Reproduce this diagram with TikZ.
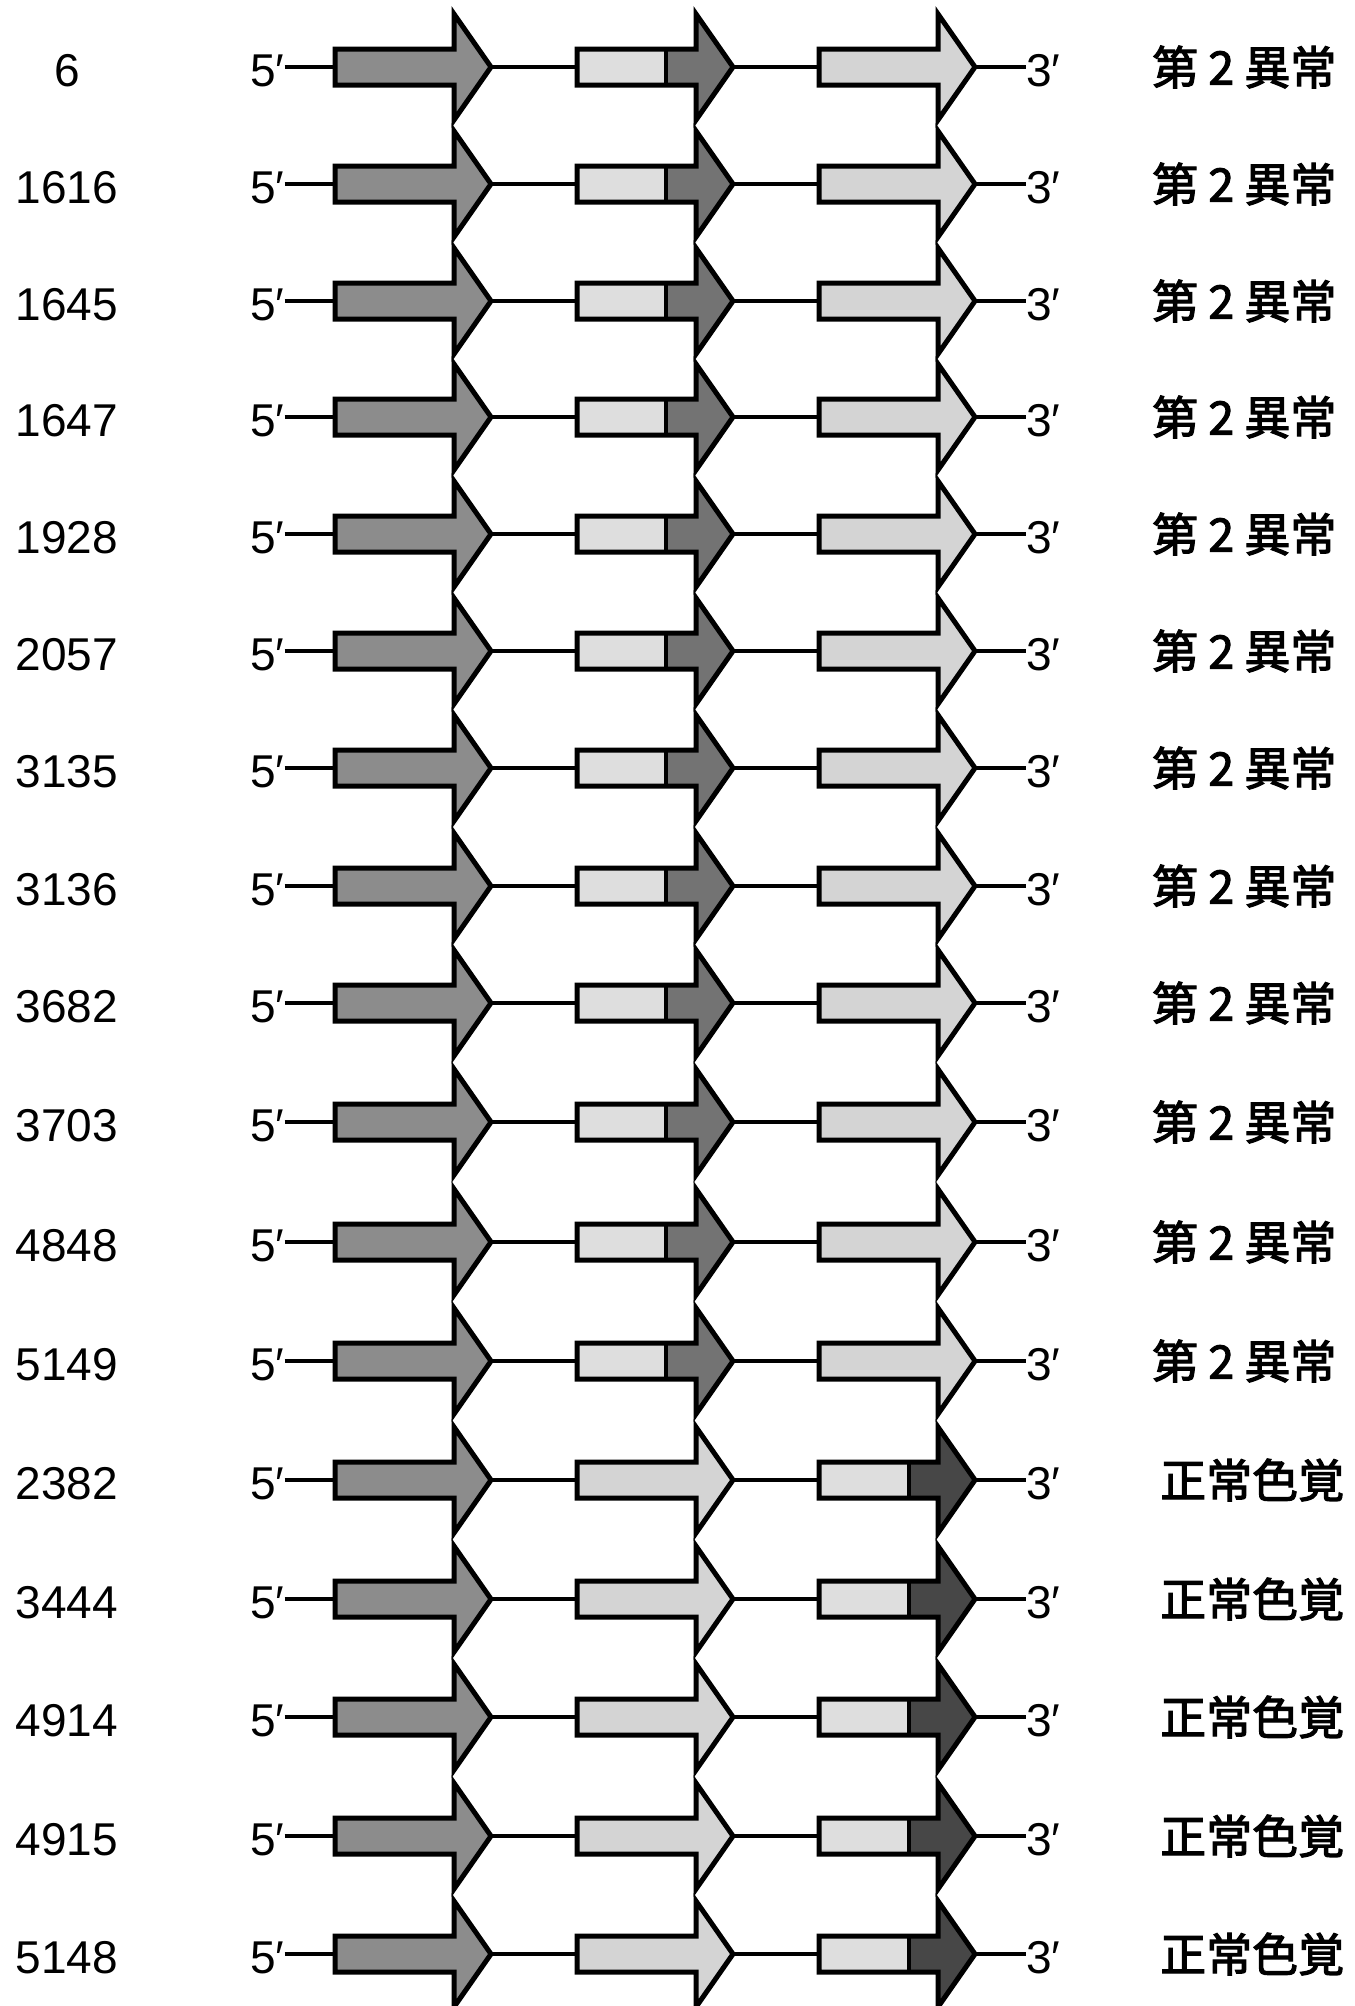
\documentclass[tikz,border=0pt]{standalone}
\usepackage{fontspec}
\setmainfont{Liberation Sans}
\newfontfamily\cjk[FakeBold=2.5]{Noto Sans CJK JP}
\definecolor{gOne}{gray}{0.55}
\definecolor{gLight}{gray}{0.87}
\definecolor{gPale}{gray}{0.83}
\definecolor{gMid}{gray}{0.45}
\definecolor{gDark}{gray}{0.28}
\tikzset{
  geneline/.style={draw=black, line width=5pt, line join=miter, miter limit=10},
  splitline/.style={draw=black, line width=3.5pt},
  link/.style={draw=black, line width=3.5pt},
  numlabel/.style={inner sep=0pt, anchor=base, font=\fontsize{46}{50}\selectfont},
  fivelabel/.style={inner sep=0pt, anchor=base west, font=\fontsize{46}{50}\selectfont},
  threelabel/.style={inner sep=0pt, anchor=base west, font=\fontsize{46}{50}\selectfont},
  typelabel/.style={inner sep=0pt, anchor=west, font=\cjk\fontsize{46}{50}\selectfont},
}
% #1 name, #2 x start, #3 y centre, #4 split (relative, 0 = none), #5 left fill, #6 right fill
\newcommand\drawgene[6]{%
  \coordinate (#1-s) at (#2,#3);
  \coordinate (#1-t) at (#2+156,#3);
  \fill[#5] (#2,#3-18) -- (#2+119,#3-18) -- (#2+119,#3-53) -- (#2+156,#3)
     -- (#2+119,#3+53) -- (#2+119,#3+18) -- (#2,#3+18) -- cycle;
  \ifnum#4>0
    \fill[#6] (#2+#4,#3-18) -- (#2+119,#3-18) -- (#2+119,#3-53) -- (#2+156,#3)
       -- (#2+119,#3+53) -- (#2+119,#3+18) -- (#2+#4,#3+18) -- cycle;
    \draw[splitline] (#2+#4,#3-18) -- (#2+#4,#3+18);
  \fi
  \draw[geneline] (#2,#3-18) -- (#2+119,#3-18) -- (#2+119,#3-53) -- (#2+156,#3)
     -- (#2+119,#3+53) -- (#2+119,#3+18) -- (#2,#3+18) -- cycle;
}
% #1 row id, #2 number, #3 y, #4 type text, #5 label x
\newcommand\rowparts[5]{%
  \node[numlabel] (r#1-num) at (67,#3+19) {#2};
  \node[fivelabel] (r#1-five) at (250,#3+19) {5′};
  \node[threelabel] (r#1-three) at (1026,#3+19) {3′};
  \node[typelabel] (r#1-lab) at (#5,#3) {#4};
}
\begin{document}
\begin{tikzpicture}[x=1pt,y=-1pt]
\fill[white] (0,0) rectangle (1355,2006);
\useasboundingbox (0,0) rectangle (1355,2006);
% second-type anomaly rows
\foreach \i/\n/\y in {0/6/67, 1/1616/184, 2/1645/301, 3/1647/417, 4/1928/534,
    5/2057/651, 6/3135/768, 7/3136/886, 8/3682/1003, 9/3703/1122,
    10/4848/1242, 11/5149/1361}{
  \rowparts{\i}{\n}{\y}{第 2 異常}{1152}
  \coordinate (r\i-g1-s) at (335,\y);
  \coordinate (r\i-g1-t) at (491,\y);
  \coordinate (r\i-g2-s) at (577,\y);
  \coordinate (r\i-g2-t) at (733,\y);
  \coordinate (r\i-g3-s) at (819,\y);
  \coordinate (r\i-g3-t) at (975,\y);
  \draw[link] (r\i-five.east |- r\i-g1-s) -- (r\i-g1-s);
  \draw[link] (r\i-g1-t) -- (r\i-g2-s);
  \draw[link] (r\i-g2-t) -- (r\i-g3-s);
  \draw[link] (r\i-g3-t) -- (r\i-three.west |- r\i-g3-t);
  \drawgene{r\i-g1}{335}{\y}{0}{gOne}{gOne}
  \drawgene{r\i-g2}{577}{\y}{89}{gLight}{gMid}
  \drawgene{r\i-g3}{819}{\y}{0}{gPale}{gPale}
}
% normal colour vision rows
\foreach \i/\n/\y in {12/2382/1480, 13/3444/1599, 14/4914/1717,
    15/4915/1836, 16/5148/1954}{
  \rowparts{\i}{\n}{\y}{正常色覚}{1160}
  \coordinate (r\i-g1-s) at (335,\y);
  \coordinate (r\i-g1-t) at (491,\y);
  \coordinate (r\i-g2-s) at (577,\y);
  \coordinate (r\i-g2-t) at (733,\y);
  \coordinate (r\i-g3-s) at (819,\y);
  \coordinate (r\i-g3-t) at (975,\y);
  \draw[link] (r\i-five.east |- r\i-g1-s) -- (r\i-g1-s);
  \draw[link] (r\i-g1-t) -- (r\i-g2-s);
  \draw[link] (r\i-g2-t) -- (r\i-g3-s);
  \draw[link] (r\i-g3-t) -- (r\i-three.west |- r\i-g3-t);
  \drawgene{r\i-g1}{335}{\y}{0}{gOne}{gOne}
  \drawgene{r\i-g2}{577}{\y}{0}{gPale}{gPale}
  \drawgene{r\i-g3}{819}{\y}{90}{gLight}{gDark}
}
\end{tikzpicture}
\end{document}
